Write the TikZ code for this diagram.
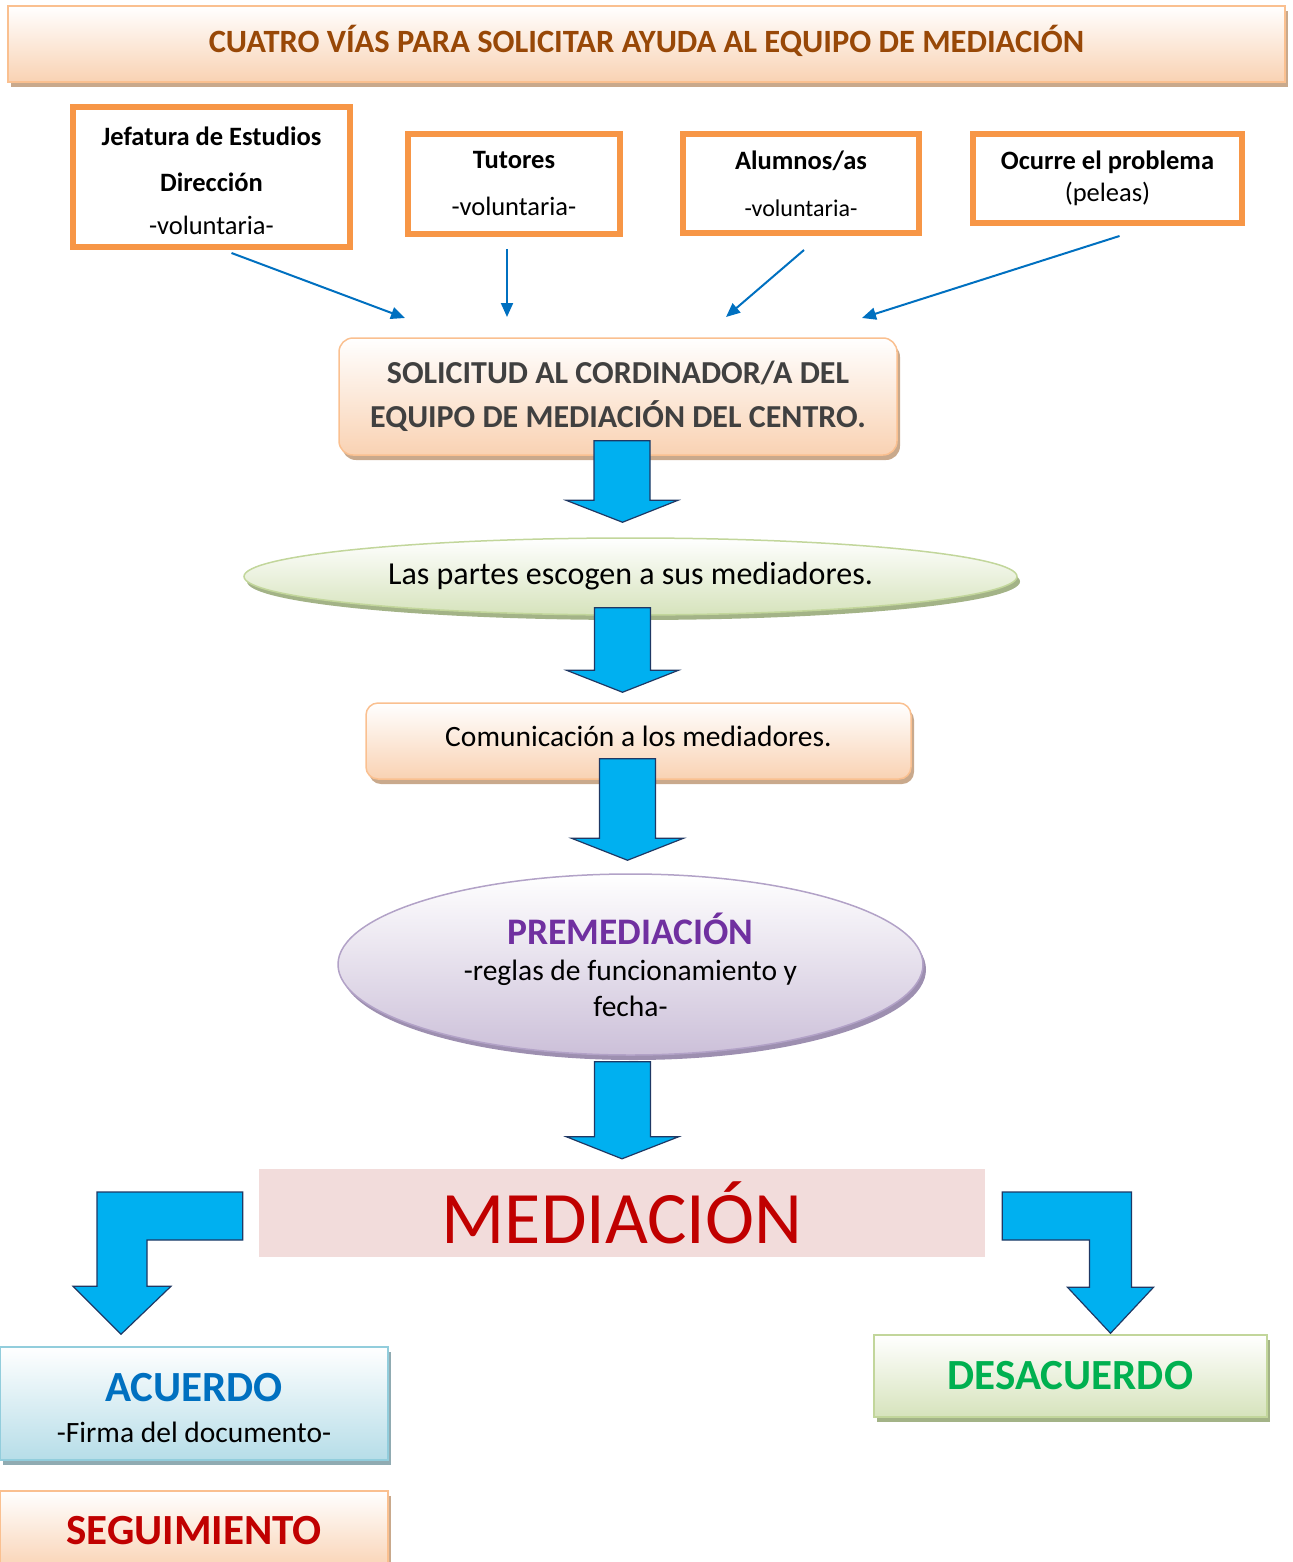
\documentclass[tikz,border=0pt]{standalone}
\usepackage{fontspec}
\setmainfont{Carlito}
\usetikzlibrary{arrows.meta,calc,shapes.geometric,shadows}

\definecolor{srcorange}{HTML}{F79646}
\definecolor{peachline}{HTML}{FAC090}
\definecolor{peachfill}{HTML}{F9D2B3}
\definecolor{peachshade}{HTML}{C9A98C}
\definecolor{titlebrown}{HTML}{984807}
\definecolor{viablue}{HTML}{0070C0}
\definecolor{arrowfill}{HTML}{00B0F0}
\definecolor{arrownavy}{HTML}{1F3864}
\definecolor{greenline}{HTML}{C2D69B}
\definecolor{greenfill}{HTML}{D6E3BC}
\definecolor{greenshade}{HTML}{A3B387}
\definecolor{lilaline}{HTML}{B2A2C7}
\definecolor{lilafill}{HTML}{CCC0D9}
\definecolor{lilashade}{HTML}{9D8FB0}
\definecolor{lilatext}{HTML}{7030A0}
\definecolor{pinkfill}{HTML}{F2DCDB}
\definecolor{darkred}{HTML}{C00000}
\definecolor{cyanline}{HTML}{92CDDC}
\definecolor{cyanfill}{HTML}{B6DDE8}
\definecolor{cyanshade}{HTML}{90ABB2}
\definecolor{okgreen}{HTML}{00B050}

\tikzset{
  via/.style={draw=viablue, line width=2pt, -{Triangle[length=14pt,width=12pt]}},
  source/.style={draw=srcorange, line width=6pt, fill=white, inner sep=0pt, align=center,
    font=\fontsize{26.5}{30}\selectfont},
  flatbox/.style={draw=#1line, line width=1.5pt, top color=white, bottom color=#1fill,
    inner sep=0pt, align=center,
    drop shadow={shadow xshift=3pt, shadow yshift=-5pt, fill=#1shade, opacity=1}},
  bigarrow/.style={fill=arrowfill, draw=arrownavy, line width=1.2pt, line join=miter},
}

% block arrow pointing down: #1 top of the shaft, #2 tip
\newcommand\blockdown[2]{%
  \draw[bigarrow] let \p1=(#1), \p2=(#2) in
    (\x1-28pt,\y1) -- (\x1+28pt,\y1) -- (\x1+28pt,\y2+22pt) -- (\x1+56pt,\y2+22pt)
    -- (\x2,\y2) -- (\x1-56pt,\y2+22pt) -- (\x1-28pt,\y2+22pt) -- cycle;}

\begin{document}
\begin{tikzpicture}[x=1pt,y=-1pt]
\useasboundingbox (0,0) rectangle (1292,1562);

% title
\node[flatbox=peach, minimum width=1277, minimum height=76,
  font=\fontsize{32.5}{38}\selectfont\bfseries, text=titlebrown] (title) at (646.5,44)
  {\raisebox{11pt}{CUATRO VÍAS PARA SOLICITAR AYUDA AL EQUIPO DE MEDIACIÓN}};

% the four ways
\node[source, minimum width=277, minimum height=140] (jefatura) at (211.5,177)
  {\rule{0pt}{26pt}\textbf{Jefatura de Estudios}\\[16pt]\textbf{Dirección}\\[13pt]-voluntaria-};
\node[source, minimum width=212, minimum height=100] (tutores) at (514,184)
  {\textbf{Tutores}\\[17pt]-voluntaria-};
\node[source, minimum width=236, minimum height=99] (alumnos) at (801,183.5)
  {\textbf{Alumnos/as}\\[17pt]{\fontsize{24}{28}\selectfont -voluntaria-}};
\node[source, minimum width=269, minimum height=89] (ocurre) at (1107.5,178.5)
  {\textbf{Ocurre el problema}\\[2pt](peleas)};

\coordinate (in1) at (405,318);
\coordinate (in2) at (507,317);
\coordinate (in3) at (726,317);
\coordinate (in4) at (862,318);
\draw[via] ($(jefatura.south)+(20,3)$) -- (in1);
\draw[via] ($(tutores.south)+(-7,12)$) -- (in2);
\draw[via] ($(alumnos.south)+(3,14)$) -- (in3);
\draw[via] ($(ocurre.south)+(12,10)$) -- (in4);

% steps
\node[flatbox=peach, rounded corners=14, minimum width=558, minimum height=117,
  font=\fontsize{32}{38}\selectfont\bfseries, text=black!75] (solicitud) at (618,396.5)
  {SOLICITUD AL CORDINADOR/A DEL\\[6pt]EQUIPO DE MEDIACIÓN DEL CENTRO.};
\node[flatbox=green, ellipse, minimum width=773, minimum height=77,
  font=\fontsize{32}{38}\selectfont] (partes) at (630.5,576.5)
  {\raisebox{-6pt}{Las partes escogen a sus mediadores.}};
\node[flatbox=peach, rounded corners=12, minimum width=545, minimum height=76,
  font=\fontsize{29.5}{35}\selectfont] (comunica) at (638.5,741)
  {\raisebox{9pt}{Comunicación a los mediadores.}};
\node[flatbox=lila, ellipse, minimum width=585, minimum height=181,
  font=\fontsize{29.5}{36}\selectfont] (premed) at (630.5,964.5)
  {{\fontsize{37.5}{40}\selectfont\bfseries\color{lilatext}PREMEDIACIÓN}\\-reglas de funcionamiento y\\fecha-};
\node[fill=pinkfill, minimum width=726, minimum height=88, inner sep=0pt,
  font=\fontsize{74}{80}\selectfont, text=darkred] (mediacion) at (622,1213)
  {MEDIACIÓN};

\blockdown{$(solicitud.south)+(4,-15)$}{$(partes.north)+(-8,-15)$}
\blockdown{$(partes.south)+(-8,-8)$}{$(comunica.north)+(-16,-10)$}
\blockdown{$(comunica.south)+(-11,-21)$}{$(premed.north)+(-3,-13)$}
\blockdown{$(premed.south)+(-8,6)$}{$(mediacion.north)+(0,-10)$}

% outcomes
\node[flatbox=cyan, minimum width=388, minimum height=113,
  font=\fontsize{29.5}{35}\selectfont] (acuerdo) at (194,1403.5)
  {\rule{0pt}{38pt}{\fontsize{43}{48}\selectfont\bfseries\color{viablue}ACUERDO}\\[6pt]-Firma del documento-};
\node[flatbox=green, minimum width=393, minimum height=82,
  font=\fontsize{43}{48}\selectfont\bfseries, text=okgreen] (desacuerdo) at (1070.5,1376)
  {DESACUERDO};
\node[flatbox=peach, minimum width=388, minimum height=80,
  font=\fontsize{43}{48}\selectfont\bfseries, text=darkred] (seguimiento) at (194,1531)
  {SEGUIMIENTO};

\draw[bigarrow] let \p1=(mediacion.west), \p2=($(acuerdo.north)+(-73,-12)$) in
  (\x1-16pt,\y1+21pt) -- (\x2-24pt,\y1+21pt) -- (\x2-24pt,\y2+48pt) -- (\x2-48pt,\y2+48pt)
  -- (\x2,\y2) -- (\x2+50pt,\y2+48pt) -- (\x2+26pt,\y2+48pt) -- (\x2+26pt,\y1-27pt)
  -- (\x1-16pt,\y1-27pt) -- cycle;
\draw[bigarrow] let \p1=(mediacion.east), \p2=($(desacuerdo.north)+(40,-1)$) in
  (\x1+17pt,\y1+21pt) -- (\x2+21pt,\y1+21pt) -- (\x2+21pt,\y2+46pt) -- (\x2+43pt,\y2+46pt)
  -- (\x2,\y2) -- (\x2-43pt,\y2+46pt) -- (\x2-21pt,\y2+46pt) -- (\x2-21pt,\y1-27pt)
  -- (\x1+17pt,\y1-27pt) -- cycle;
\end{tikzpicture}
\end{document}
